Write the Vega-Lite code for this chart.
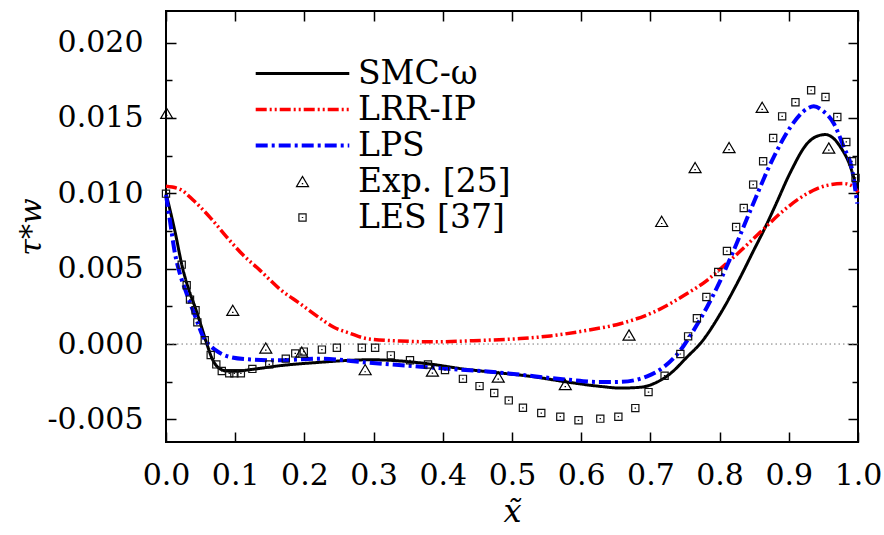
{
  "$schema": "https://vega.github.io/schema/vega-lite/v6.json",
  "width": 692,
  "height": 431,
  "autosize": {"type": "none"},
  "padding": {"left": 166, "top": 11, "right": 26, "bottom": 93},
  "background": "white",
  "config": {
    "font": "DejaVu Serif",
    "view": {"stroke": "#000", "strokeWidth": 2},
    "axis": {
      "domain": false, "grid": false, "tickColor": "#000", "tickWidth": 1.5,
      "labelFont": "DejaVu Serif", "labelFontSize": 30, "labelColor": "#000",
      "titleFont": "DejaVu Serif", "titleFontStyle": "italic", "titleFontWeight": "normal",
      "titleFontSize": 30, "titleColor": "#000"
    },
    "legend": {
      "orient": "none", "legendX": 120, "legendY": 46,
      "labelFont": "DejaVu Serif", "labelFontSize": 33, "labelColor": "#000",
      "labelOffset": 39, "symbolSize": 144, "rowPadding": 2, "padding": 0,
      "labelLimit": 300
    }
  },
  "datasets": {
    "curves": [
      {"series": "SMC-ω", "x": 0.0, "y": 0.0100},
      {"series": "SMC-ω", "x": 0.0126, "y": 0.00755},
      {"series": "SMC-ω", "x": 0.0242, "y": 0.00500},
      {"series": "SMC-ω", "x": 0.0333, "y": 0.00356},
      {"series": "SMC-ω", "x": 0.0419, "y": 0.00246},
      {"series": "SMC-ω", "x": 0.0506, "y": 0.00124},
      {"series": "SMC-ω", "x": 0.0589, "y": 0.00003},
      {"series": "SMC-ω", "x": 0.0665, "y": -0.00095},
      {"series": "SMC-ω", "x": 0.0752, "y": -0.00155},
      {"series": "SMC-ω", "x": 0.0878, "y": -0.00179},
      {"series": "SMC-ω", "x": 0.0998, "y": -0.00181},
      {"series": "SMC-ω", "x": 0.1215, "y": -0.00170},
      {"series": "SMC-ω", "x": 0.1696, "y": -0.00141},
      {"series": "SMC-ω", "x": 0.2227, "y": -0.00121},
      {"series": "SMC-ω", "x": 0.2661, "y": -0.00108},
      {"series": "SMC-ω", "x": 0.2950, "y": -0.00104},
      {"series": "SMC-ω", "x": 0.3239, "y": -0.00108},
      {"series": "SMC-ω", "x": 0.3770, "y": -0.00130},
      {"series": "SMC-ω", "x": 0.4338, "y": -0.00168},
      {"series": "SMC-ω", "x": 0.4830, "y": -0.00192},
      {"series": "SMC-ω", "x": 0.5264, "y": -0.00214},
      {"series": "SMC-ω", "x": 0.5795, "y": -0.00252},
      {"series": "SMC-ω", "x": 0.6276, "y": -0.00281},
      {"series": "SMC-ω", "x": 0.6565, "y": -0.00292},
      {"series": "SMC-ω", "x": 0.6855, "y": -0.00287},
      {"series": "SMC-ω", "x": 0.7047, "y": -0.00263},
      {"series": "SMC-ω", "x": 0.7288, "y": -0.00196},
      {"series": "SMC-ω", "x": 0.7530, "y": -0.00086},
      {"series": "SMC-ω", "x": 0.7747, "y": 0.00018},
      {"series": "SMC-ω", "x": 0.8012, "y": 0.00202},
      {"series": "SMC-ω", "x": 0.8301, "y": 0.00445},
      {"series": "SMC-ω", "x": 0.8493, "y": 0.00622},
      {"series": "SMC-ω", "x": 0.8638, "y": 0.00754},
      {"series": "SMC-ω", "x": 0.8807, "y": 0.00921},
      {"series": "SMC-ω", "x": 0.9024, "y": 0.01140},
      {"series": "SMC-ω", "x": 0.9265, "y": 0.01330},
      {"series": "SMC-ω", "x": 0.9386, "y": 0.01375},
      {"series": "SMC-ω", "x": 0.9530, "y": 0.01390},
      {"series": "SMC-ω", "x": 0.9646, "y": 0.01365},
      {"series": "SMC-ω", "x": 0.9747, "y": 0.01307},
      {"series": "SMC-ω", "x": 0.9892, "y": 0.01175},
      {"series": "SMC-ω", "x": 1.0, "y": 0.01000},

      {"series": "LRR-IP", "x": 0.0, "y": 0.01047},
      {"series": "LRR-IP", "x": 0.0202, "y": 0.01027},
      {"series": "LRR-IP", "x": 0.0395, "y": 0.00954},
      {"series": "LRR-IP", "x": 0.0636, "y": 0.00841},
      {"series": "LRR-IP", "x": 0.0878, "y": 0.00710},
      {"series": "LRR-IP", "x": 0.1118, "y": 0.00589},
      {"series": "LRR-IP", "x": 0.1359, "y": 0.00489},
      {"series": "LRR-IP", "x": 0.1649, "y": 0.00363},
      {"series": "LRR-IP", "x": 0.1938, "y": 0.00268},
      {"series": "LRR-IP", "x": 0.2227, "y": 0.00171},
      {"series": "LRR-IP", "x": 0.2419, "y": 0.00113},
      {"series": "LRR-IP", "x": 0.2661, "y": 0.00071},
      {"series": "LRR-IP", "x": 0.2902, "y": 0.00036},
      {"series": "LRR-IP", "x": 0.3384, "y": 0.00020},
      {"series": "LRR-IP", "x": 0.3866, "y": 0.00015},
      {"series": "LRR-IP", "x": 0.4589, "y": 0.00025},
      {"series": "LRR-IP", "x": 0.5119, "y": 0.00036},
      {"series": "LRR-IP", "x": 0.5553, "y": 0.00054},
      {"series": "LRR-IP", "x": 0.6084, "y": 0.00091},
      {"series": "LRR-IP", "x": 0.6565, "y": 0.00135},
      {"series": "LRR-IP", "x": 0.7047, "y": 0.00212},
      {"series": "LRR-IP", "x": 0.7530, "y": 0.00335},
      {"series": "LRR-IP", "x": 0.7819, "y": 0.00423},
      {"series": "LRR-IP", "x": 0.8012, "y": 0.00500},
      {"series": "LRR-IP", "x": 0.8204, "y": 0.00577},
      {"series": "LRR-IP", "x": 0.8590, "y": 0.00743},
      {"series": "LRR-IP", "x": 0.8927, "y": 0.00887},
      {"series": "LRR-IP", "x": 0.9265, "y": 0.00998},
      {"series": "LRR-IP", "x": 0.9555, "y": 0.01053},
      {"series": "LRR-IP", "x": 0.9795, "y": 0.01065},
      {"series": "LRR-IP", "x": 0.9939, "y": 0.01042},
      {"series": "LRR-IP", "x": 1.0, "y": 0.01007},

      {"series": "LPS", "x": 0.0, "y": 0.00990},
      {"series": "LPS", "x": 0.0060, "y": 0.00810},
      {"series": "LPS", "x": 0.0130, "y": 0.00600},
      {"series": "LPS", "x": 0.0202, "y": 0.00465},
      {"series": "LPS", "x": 0.0299, "y": 0.00334},
      {"series": "LPS", "x": 0.0444, "y": 0.00157},
      {"series": "LPS", "x": 0.0539, "y": 0.00046},
      {"series": "LPS", "x": 0.0636, "y": -0.00009},
      {"series": "LPS", "x": 0.0756, "y": -0.00053},
      {"series": "LPS", "x": 0.0926, "y": -0.00086},
      {"series": "LPS", "x": 0.1215, "y": -0.00102},
      {"series": "LPS", "x": 0.1601, "y": -0.00108},
      {"series": "LPS", "x": 0.2227, "y": -0.00097},
      {"series": "LPS", "x": 0.2902, "y": -0.00123},
      {"series": "LPS", "x": 0.3866, "y": -0.00157},
      {"series": "LPS", "x": 0.4830, "y": -0.00190},
      {"series": "LPS", "x": 0.5795, "y": -0.00236},
      {"series": "LPS", "x": 0.6276, "y": -0.00252},
      {"series": "LPS", "x": 0.6565, "y": -0.00251},
      {"series": "LPS", "x": 0.6952, "y": -0.00214},
      {"series": "LPS", "x": 0.7192, "y": -0.00153},
      {"series": "LPS", "x": 0.7433, "y": -0.00042},
      {"series": "LPS", "x": 0.7625, "y": 0.00091},
      {"series": "LPS", "x": 0.7819, "y": 0.00246},
      {"series": "LPS", "x": 0.8012, "y": 0.00423},
      {"series": "LPS", "x": 0.8204, "y": 0.00622},
      {"series": "LPS", "x": 0.8445, "y": 0.00887},
      {"series": "LPS", "x": 0.8782, "y": 0.01241},
      {"series": "LPS", "x": 0.9024, "y": 0.01440},
      {"series": "LPS", "x": 0.9265, "y": 0.01562},
      {"series": "LPS", "x": 0.9361, "y": 0.01578},
      {"series": "LPS", "x": 0.9482, "y": 0.01551},
      {"series": "LPS", "x": 0.9650, "y": 0.01463},
      {"series": "LPS", "x": 0.9795, "y": 0.01307},
      {"series": "LPS", "x": 0.9916, "y": 0.01153},
      {"series": "LPS", "x": 0.9989, "y": 0.00932}
    ],
    "points": [
      {"series": "Exp. [25]", "x": 0.001, "y": 0.01531},
      {"series": "Exp. [25]", "x": 0.0965, "y": 0.00224},
      {"series": "Exp. [25]", "x": 0.1442, "y": -0.00027},
      {"series": "Exp. [25]", "x": 0.1962, "y": -0.00053},
      {"series": "Exp. [25]", "x": 0.2878, "y": -0.00170},
      {"series": "Exp. [25]", "x": 0.3850, "y": -0.00179},
      {"series": "Exp. [25]", "x": 0.4801, "y": -0.00219},
      {"series": "Exp. [25]", "x": 0.5770, "y": -0.00269},
      {"series": "Exp. [25]", "x": 0.6691, "y": 0.00060},
      {"series": "Exp. [25]", "x": 0.7163, "y": 0.00814},
      {"series": "Exp. [25]", "x": 0.7646, "y": 0.01171},
      {"series": "Exp. [25]", "x": 0.8137, "y": 0.01304},
      {"series": "Exp. [25]", "x": 0.8615, "y": 0.01571},
      {"series": "Exp. [25]", "x": 0.9578, "y": 0.01301},

      {"series": "LES [37]", "x": 0.000, "y": 0.00998},
      {"series": "LES [37]", "x": 0.0227, "y": 0.00527},
      {"series": "LES [37]", "x": 0.0299, "y": 0.00390},
      {"series": "LES [37]", "x": 0.0347, "y": 0.00295},
      {"series": "LES [37]", "x": 0.0427, "y": 0.00224},
      {"series": "LES [37]", "x": 0.0453, "y": 0.00144},
      {"series": "LES [37]", "x": 0.0560, "y": 0.00025},
      {"series": "LES [37]", "x": 0.0646, "y": -0.00073},
      {"series": "LES [37]", "x": 0.0727, "y": -0.00135},
      {"series": "LES [37]", "x": 0.0806, "y": -0.00179},
      {"series": "LES [37]", "x": 0.0914, "y": -0.00194},
      {"series": "LES [37]", "x": 0.0988, "y": -0.00194},
      {"series": "LES [37]", "x": 0.1082, "y": -0.00194},
      {"series": "LES [37]", "x": 0.1248, "y": -0.00165},
      {"series": "LES [37]", "x": 0.1492, "y": -0.00135},
      {"series": "LES [37]", "x": 0.1731, "y": -0.00097},
      {"series": "LES [37]", "x": 0.1868, "y": -0.00062},
      {"series": "LES [37]", "x": 0.1991, "y": -0.00050},
      {"series": "LES [37]", "x": 0.2253, "y": -0.00037},
      {"series": "LES [37]", "x": 0.2469, "y": -0.00025},
      {"series": "LES [37]", "x": 0.2830, "y": -0.00025},
      {"series": "LES [37]", "x": 0.3022, "y": -0.00025},
      {"series": "LES [37]", "x": 0.3249, "y": -0.00075},
      {"series": "LES [37]", "x": 0.3526, "y": -0.00108},
      {"series": "LES [37]", "x": 0.3786, "y": -0.00136},
      {"series": "LES [37]", "x": 0.4032, "y": -0.00173},
      {"series": "LES [37]", "x": 0.4291, "y": -0.00231},
      {"series": "LES [37]", "x": 0.4531, "y": -0.00279},
      {"series": "LES [37]", "x": 0.4743, "y": -0.00325},
      {"series": "LES [37]", "x": 0.4953, "y": -0.00374},
      {"series": "LES [37]", "x": 0.5158, "y": -0.00423},
      {"series": "LES [37]", "x": 0.5423, "y": -0.00458},
      {"series": "LES [37]", "x": 0.5698, "y": -0.00482},
      {"series": "LES [37]", "x": 0.5961, "y": -0.00506},
      {"series": "LES [37]", "x": 0.6276, "y": -0.00495},
      {"series": "LES [37]", "x": 0.6537, "y": -0.00482},
      {"series": "LES [37]", "x": 0.6782, "y": -0.00425},
      {"series": "LES [37]", "x": 0.6973, "y": -0.00319},
      {"series": "LES [37]", "x": 0.7205, "y": -0.00210},
      {"series": "LES [37]", "x": 0.7433, "y": -0.00066},
      {"series": "LES [37]", "x": 0.7545, "y": 0.00051},
      {"series": "LES [37]", "x": 0.7672, "y": 0.00171},
      {"series": "LES [37]", "x": 0.7809, "y": 0.00312},
      {"series": "LES [37]", "x": 0.7980, "y": 0.00478},
      {"series": "LES [37]", "x": 0.8106, "y": 0.00617},
      {"series": "LES [37]", "x": 0.8239, "y": 0.00777},
      {"series": "LES [37]", "x": 0.8349, "y": 0.00903},
      {"series": "LES [37]", "x": 0.8485, "y": 0.01058},
      {"series": "LES [37]", "x": 0.8629, "y": 0.01213},
      {"series": "LES [37]", "x": 0.8774, "y": 0.01367},
      {"series": "LES [37]", "x": 0.8904, "y": 0.01511},
      {"series": "LES [37]", "x": 0.9096, "y": 0.01604},
      {"series": "LES [37]", "x": 0.9323, "y": 0.01684},
      {"series": "LES [37]", "x": 0.9530, "y": 0.01639},
      {"series": "LES [37]", "x": 0.9701, "y": 0.01507},
      {"series": "LES [37]", "x": 0.9831, "y": 0.01341},
      {"series": "LES [37]", "x": 0.9916, "y": 0.01213},
      {"series": "LES [37]", "x": 0.9964, "y": 0.01102}
    ],
    "zero": [{"y": 0}]
  },
  "layer": [
    {
      "data": {"name": "zero"},
      "mark": {"type": "rule", "color": "#777", "strokeWidth": 1, "strokeDash": [1.5, 3]},
      "encoding": {
        "y": {"field": "y", "type": "quantitative", "axis": null,
              "scale": {"domain": [-0.0065, 0.0221], "nice": false, "zero": false}}
      }
    },
    {
      "data": {"name": "curves"},
      "mark": {"type": "line", "interpolate": "monotone"},
      "encoding": {
        "x": {"field": "x", "type": "quantitative",
              "scale": {"domain": [0, 1], "nice": false},
              "axis": {"orient": "bottom", "values": [0, 0.1, 0.2, 0.3, 0.4, 0.5, 0.6, 0.7, 0.8, 0.9, 1.0],
                       "labelExpr": "format(datum.value, '.1f')", "tickSize": -10, "labelPadding": 28,
                       "labelFlush": false, "labelOverlap": false,
                       "title": "x̃", "titlePadding": 6, "titleFontSize": 32}},
        "y": {"field": "y", "type": "quantitative",
              "scale": {"domain": [-0.0065, 0.0221], "nice": false, "zero": false},
              "axis": {"orient": "left",
                       "values": [-0.005, -0.0025, 0, 0.0025, 0.005, 0.0075, 0.01, 0.0125, 0.015, 0.0175, 0.02],
                       "labelExpr": "round(datum.value*400) % 2 == 0 ? replace(format(datum.value, '.3f'), '\u2212', '-') : ''",
                       "tickSize": {"condition": {"test": "round(datum.value*400) % 2 == 0", "value": -10}, "value": -6},
                       "labelPadding": 33, "labelOverlap": false, "labelFlush": false,
                       "title": "τ*w", "titlePadding": 0}},
        "color": {"field": "series", "type": "nominal", "title": null,
                  "scale": {"domain": ["SMC-ω", "LRR-IP", "LPS", "Exp. [25]", "LES [37]"],
                            "range": ["#000000", "#ff0000", "#0000ff", "#000000", "#111111"]}},
        "strokeDash": {"field": "series", "type": "nominal", "title": null,
                       "scale": {"domain": ["SMC-ω", "LRR-IP", "LPS", "Exp. [25]", "LES [37]"],
                                 "range": [[1, 0], [11, 3, 2, 3, 2, 3], [12, 4, 3, 4], [1, 0], [1, 0]]}},
        "strokeWidth": {"field": "series", "type": "nominal", "title": null,
                        "scale": {"type": "ordinal", "domain": ["SMC-ω", "LRR-IP", "LPS", "Exp. [25]", "LES [37]"],
                                  "range": [3, 3.5, 4, 1.2, 1.2]}}
      }
    },
    {
      "data": {"name": "points"},
      "mark": {"type": "point", "filled": false, "size": 144, "opacity": 1},
      "encoding": {
        "x": {"field": "x", "type": "quantitative",
              "scale": {"domain": [0, 1], "nice": false},
              "axis": {"orient": "top", "values": [0, 0.1, 0.2, 0.3, 0.4, 0.5, 0.6, 0.7, 0.8, 0.9, 1.0],
                       "labels": false, "tickSize": -10, "title": null}},
        "y": {"field": "y", "type": "quantitative",
              "scale": {"domain": [-0.0065, 0.0221], "nice": false, "zero": false},
              "axis": {"orient": "right",
                       "values": [-0.005, -0.0025, 0, 0.0025, 0.005, 0.0075, 0.01, 0.0125, 0.015, 0.0175, 0.02],
                       "labels": false,
                       "tickSize": {"condition": {"test": "round(datum.value*400) % 2 == 0", "value": -10}, "value": -6},
                       "title": null}},
        "color": {"field": "series", "type": "nominal", "title": null,
                  "scale": {"domain": ["SMC-ω", "LRR-IP", "LPS", "Exp. [25]", "LES [37]"],
                            "range": ["#000000", "#ff0000", "#0000ff", "#000000", "#111111"]}},
        "shape": {"field": "series", "type": "nominal", "title": null,
                  "scale": {"domain": ["SMC-ω", "LRR-IP", "LPS", "Exp. [25]", "LES [37]"],
                            "range": ["M-7.8,0H7.8", "M-7.8,0H7.8", "M-7.8,0H7.8",
                                      "M0,-0.85L1,0.85H-1Z M-0.12,0.35H0.12",
                                      "M-0.6,-0.6H0.6V0.6H-0.6Z M-0.12,0H0.12"]}},
        "strokeWidth": {"field": "series", "type": "nominal", "title": null,
                        "scale": {"type": "ordinal", "domain": ["SMC-ω", "LRR-IP", "LPS", "Exp. [25]", "LES [37]"],
                                  "range": [3, 3.5, 4, 1.2, 1.2]}}
      }
    }
  ],
  "resolve": {"axis": {"x": "independent", "y": "independent"}}
}
